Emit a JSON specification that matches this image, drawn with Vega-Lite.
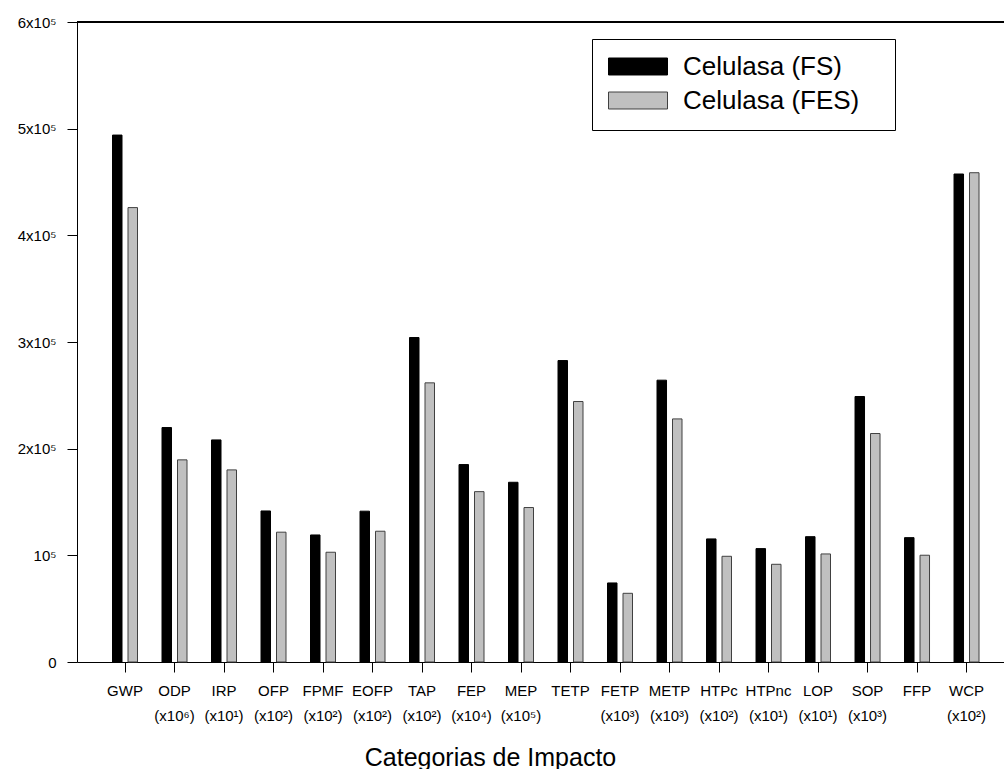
{
  "$schema": "https://vega.github.io/schema/vega-lite/v6.json",
  "autosize": "none",
  "padding": {"left": 77, "top": 22, "right": 0, "bottom": 107},
  "width": 927,
  "height": 640,
  "config": {
    "view": {"stroke": null},
    "font": "Liberation Sans",
    "axis": {"domainColor": "#000000", "tickColor": "#000000", "labelColor": "#000000", "titleColor": "#000000", "grid": false}
  },
  "data": {
    "values": [
      {"categoria": "GWP", "serie": "Celulasa (FS)", "valor": 494000},
      {"categoria": "GWP", "serie": "Celulasa (FES)", "valor": 426000},
      {"categoria": "ODP", "serie": "Celulasa (FS)", "valor": 219800},
      {"categoria": "ODP", "serie": "Celulasa (FES)", "valor": 189500},
      {"categoria": "IRP", "serie": "Celulasa (FS)", "valor": 208200},
      {"categoria": "IRP", "serie": "Celulasa (FES)", "valor": 180100},
      {"categoria": "OFP", "serie": "Celulasa (FS)", "valor": 141600},
      {"categoria": "OFP", "serie": "Celulasa (FES)", "valor": 121700},
      {"categoria": "FPMF", "serie": "Celulasa (FS)", "valor": 119100},
      {"categoria": "FPMF", "serie": "Celulasa (FES)", "valor": 102900},
      {"categoria": "EOFP", "serie": "Celulasa (FS)", "valor": 141400},
      {"categoria": "EOFP", "serie": "Celulasa (FES)", "valor": 122600},
      {"categoria": "TAP", "serie": "Celulasa (FS)", "valor": 304200},
      {"categoria": "TAP", "serie": "Celulasa (FES)", "valor": 261700},
      {"categoria": "FEP", "serie": "Celulasa (FS)", "valor": 185100},
      {"categoria": "FEP", "serie": "Celulasa (FES)", "valor": 159700},
      {"categoria": "MEP", "serie": "Celulasa (FS)", "valor": 168500},
      {"categoria": "MEP", "serie": "Celulasa (FES)", "valor": 144800},
      {"categoria": "TETP", "serie": "Celulasa (FS)", "valor": 282600},
      {"categoria": "TETP", "serie": "Celulasa (FES)", "valor": 244200},
      {"categoria": "FETP", "serie": "Celulasa (FS)", "valor": 74100},
      {"categoria": "FETP", "serie": "Celulasa (FES)", "valor": 64400},
      {"categoria": "METP", "serie": "Celulasa (FS)", "valor": 264200},
      {"categoria": "METP", "serie": "Celulasa (FES)", "valor": 227900},
      {"categoria": "HTPc", "serie": "Celulasa (FS)", "valor": 115400},
      {"categoria": "HTPc", "serie": "Celulasa (FES)", "valor": 99100},
      {"categoria": "HTPnc", "serie": "Celulasa (FS)", "valor": 106300},
      {"categoria": "HTPnc", "serie": "Celulasa (FES)", "valor": 91600},
      {"categoria": "LOP", "serie": "Celulasa (FS)", "valor": 117500},
      {"categoria": "LOP", "serie": "Celulasa (FES)", "valor": 101300},
      {"categoria": "SOP", "serie": "Celulasa (FS)", "valor": 248900},
      {"categoria": "SOP", "serie": "Celulasa (FES)", "valor": 214200},
      {"categoria": "FFP", "serie": "Celulasa (FS)", "valor": 116600},
      {"categoria": "FFP", "serie": "Celulasa (FES)", "valor": 100100},
      {"categoria": "WCP", "serie": "Celulasa (FS)", "valor": 457500},
      {"categoria": "WCP", "serie": "Celulasa (FES)", "valor": 458700}
    ]
  },
  "layer": [
    {
      "mark": {"type": "bar", "strokeWidth": 1},
      "encoding": {
        "x": {
          "field": "categoria",
          "type": "nominal",
          "sort": null,
          "scale": {"paddingInner": 0.495, "paddingOuter": 0.611, "align": 0.587},
          "axis": {
            "title": "Categorias de Impacto",
            "titleFontSize": 25,
            "titleFontWeight": "normal",
            "titleX": 413,
            "titleY": 103,
            "titleAlign": "center",
            "titleBaseline": "alphabetic",
            "labelAngle": 0,
            "labelFontSize": 15,
            "labelPadding": 11,
            "labelBaseline": "top",
            "labelLineHeight": 25,
            "tickSize": 10,
            "labelExpr": "[datum.value, ['', '(x10⁶)', '(x10¹)', '(x10²)', '(x10²)', '(x10²)', '(x10²)', '(x10⁴)', '(x10⁵)', '', '(x10³)', '(x10³)', '(x10²)', '(x10¹)', '(x10¹)', '(x10³)', '', '(x10²)'][indexof(['GWP', 'ODP', 'IRP', 'OFP', 'FPMF', 'EOFP', 'TAP', 'FEP', 'MEP', 'TETP', 'FETP', 'METP', 'HTPc', 'HTPnc', 'LOP', 'SOP', 'FFP', 'WCP'], datum.value)]]"
          }
        },
        "xOffset": {
          "field": "serie",
          "sort": ["Celulasa (FS)", "Celulasa (FES)"],
          "scale": {"paddingInner": 0.387, "paddingOuter": 0}
        },
        "y": {
          "field": "valor",
          "type": "quantitative",
          "scale": {"domain": [0, 600000], "nice": false},
          "axis": {
            "title": null,
            "values": [0, 100000, 200000, 300000, 400000, 500000, 600000],
            "tickSize": 10,
            "labelPadding": 11,
            "labelFontSize": 15,
            "labelExpr": "datum.value == 0 ? '0' : datum.value == 100000 ? '10⁵' : (datum.value / 100000) + 'x10⁵'"
          }
        },
        "color": {
          "field": "serie",
          "type": "nominal",
          "scale": {"domain": ["Celulasa (FS)", "Celulasa (FES)"], "range": ["#000000", "#c0c0c0"]},
          "legend": {
            "title": null,
            "orient": "none",
            "legendX": 515,
            "legendY": 17,
            "padding": 16,
            "strokeColor": "#000000",
            "fillColor": "#ffffff",
            "symbolType": "M-1,-0.288H1V0.288H-1Z",
            "symbolSize": 3481,
            "symbolStrokeWidth": 1,
            "symbolOpacity": 1,
            "clipHeight": 23,
            "rowPadding": 7,
            "labelOffset": 15,
            "labelFontSize": 26,
            "labelLimit": 400,
            "labelColor": "#000000",
            "labelExpr": "datum.label + '\u2800'"
          }
        },
        "stroke": {
          "field": "serie",
          "type": "nominal",
          "scale": {"domain": ["Celulasa (FS)", "Celulasa (FES)"], "range": ["#000000", "#404040"]},
          "legend": null
        }
      }
    },
    {
      "mark": {"type": "rule", "color": "#000000", "strokeWidth": 1},
      "encoding": {"y": {"datum": 600000}}
    }
  ]
}
